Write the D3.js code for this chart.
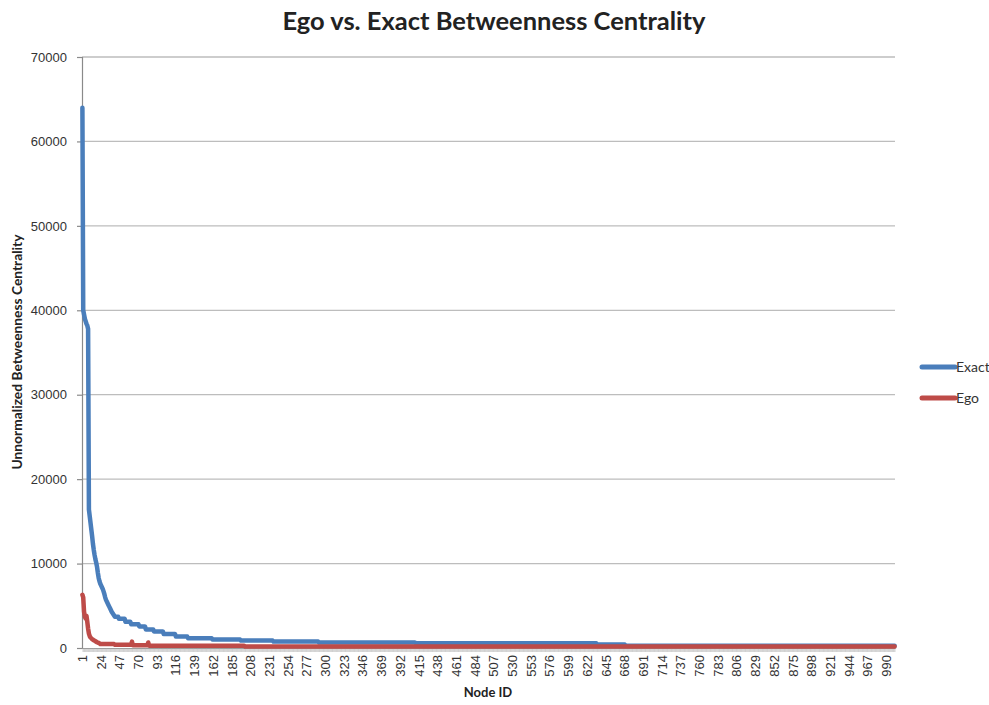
<!DOCTYPE html>
<html>
<head>
<meta charset="utf-8">
<script src="https://cdn.jsdelivr.net/npm/d3@7/dist/d3.min.js"></script>
<style>
  html, body { margin: 0; padding: 0; background: #fff; }
  svg { display: block; }
</style>
</head>
<body>
<svg id="chart" width="989" height="705"></svg>
<script>
// Betweenness centrality per node, nodes sorted by exact value (descending).
// Leading nodes are listed one by one; the long tail is stored as
// [value, nodeCount] plateaus.
const exactHead = [
  64000, 40000, 39500, 39000, 38700, 38400, 38200, 37800, 16400, 15600,
  14800, 14000, 13200, 12300, 11600, 11000, 10500, 10100, 9600, 8900,
  8300, 7900, 7600, 7400, 7200, 7000, 6700, 6400, 6000, 5700,
  5500, 5300, 5100, 4900, 4700, 4500, 4300, 4150, 4000, 3850
];
const exactTail = [
  [3700, 5], [3450, 8], [3100, 7], [2800, 10], [2550, 8], [2200, 10],
  [1950, 12], [1650, 15], [1350, 15], [1150, 30], [1000, 35], [880, 40],
  [760, 56], [640, 119], [560, 223], [420, 35], [260, 332]
];
const egoHead = [
  6300, 6000, 4300, 3700, 3500, 3800, 3100, 2300, 1700, 1400,
  1250, 1150, 1050, 980, 920, 870, 800, 740, 680, 640,
  600, 560
];
const egoTail = [
  [470, 18], [380, 21], [750, 1], [330, 19], [650, 1], [260, 118], [180, 800]
];

const seriesNames = ["Exact", "Ego"];
const seriesColors = ["#4a7ebb", "#be4b48"];
const yTicks = [0, 10000, 20000, 30000, 40000, 50000, 60000, 70000];
const xLabelStep = 23;

const titleText = "Ego vs. Exact Betweenness Centrality";
const yTitleText = "Unnormalized Betweenness Centrality";
const xTitleText = "Node ID";

function expand(head, tail) {
  const out = head.slice();
  tail.forEach(([v, n]) => { for (let k = 0; k < n; k++) out.push(v); });
  return out;
}
const exact = expand(exactHead, exactTail);
const ego = expand(egoHead, egoTail);
const nodeIds = exact.map((_, i) => i + 1);
const xLabels = nodeIds.filter(id => (id - 1) % xLabelStep === 0);

const svg = d3.select("#chart");
const plot = { left: 82, right: 895, top: 57, bottom: 648 };

const x = d3.scalePoint().domain(nodeIds).range([plot.left, plot.right]).padding(0.5);
const y = d3.scaleLinear().domain([0, 70000]).range([plot.bottom, plot.top]);

// horizontal gridlines
svg.append("g")
  .selectAll("line")
  .data(yTicks.filter(t => t > 0))
  .join("line")
  .attr("x1", plot.left).attr("x2", plot.right)
  .attr("y1", d => y(d)).attr("y2", d => y(d))
  .attr("stroke", "#bdbdbd").attr("stroke-width", 1.3);

// y axis
const yAxis = svg.append("g")
  .attr("transform", `translate(${plot.left},0)`)
  .call(d3.axisLeft(y).tickValues(yTicks).tickSize(5).tickPadding(10).tickFormat(d3.format("d")));
yAxis.select(".domain").attr("stroke", "#8a8a8a").attr("stroke-width", 1.2);
yAxis.selectAll(".tick line").attr("stroke", "#8a8a8a").attr("stroke-width", 1.2);
yAxis.selectAll(".tick text")
  .attr("font-family", "'Liberation Sans', Arial, sans-serif")
  .attr("font-size", 13).attr("fill", "#333");

// x axis: a tick at every node, a label every 23 nodes
const xAxis = svg.append("g")
  .attr("transform", `translate(0,${plot.bottom})`)
  .call(d3.axisBottom(x).tickValues(nodeIds).tickSize(4).tickSizeOuter(0).tickFormat(""));
xAxis.select(".domain").attr("stroke", "#8a8a8a").attr("stroke-width", 1.2);
xAxis.selectAll(".tick line").attr("stroke", "#b0b0b0").attr("stroke-width", 0.5);

svg.append("g")
  .selectAll("text")
  .data(xLabels)
  .join("text")
  .attr("transform", d => `translate(${x(d)},${plot.bottom + 7}) rotate(-90)`)
  .attr("text-anchor", "end")
  .attr("dy", "0.35em")
  .attr("font-family", "'Liberation Sans', Arial, sans-serif")
  .attr("font-size", 13)
  .attr("fill", "#333")
  .text(d => d);

// series lines
const line = d3.line().x((d, i) => x(i + 1)).y(d => y(d));
[exact, ego].forEach((values, k) => {
  svg.append("path")
    .datum(values)
    .attr("d", line)
    .attr("fill", "none")
    .attr("stroke", seriesColors[k])
    .attr("stroke-width", 4.5)
    .attr("stroke-linejoin", "round")
    .attr("stroke-linecap", "round");
});

// legend
const legend = svg.append("g");
seriesNames.forEach((name, k) => {
  const ly = 367 + k * 31;
  legend.append("line")
    .attr("x1", 922).attr("x2", 955).attr("y1", ly).attr("y2", ly)
    .attr("stroke", seriesColors[k]).attr("stroke-width", 5).attr("stroke-linecap", "round");
  legend.append("text")
    .attr("x", 956).attr("y", ly + 5)
    .attr("font-family", "Lato, 'Open Sans', sans-serif")
    .attr("font-size", 14).attr("fill", "#333")
    .text(name);
});

// titles
svg.append("text")
  .attr("x", 494).attr("y", 30)
  .attr("text-anchor", "middle")
  .attr("font-family", "Lato, 'Open Sans', sans-serif")
  .attr("font-weight", "bold").attr("font-size", 24).attr("fill", "#222")
  .attr("textLength", 423).attr("lengthAdjust", "spacingAndGlyphs")
  .text(titleText);

svg.append("text")
  .attr("transform", "translate(22,352) rotate(-90)")
  .attr("text-anchor", "middle")
  .attr("font-family", "Lato, 'Open Sans', sans-serif")
  .attr("font-weight", "bold").attr("font-size", 13).attr("fill", "#222")
  .attr("textLength", 235).attr("lengthAdjust", "spacingAndGlyphs")
  .text(yTitleText);

svg.append("text")
  .attr("x", 488).attr("y", 697)
  .attr("text-anchor", "middle")
  .attr("font-family", "Lato, 'Open Sans', sans-serif")
  .attr("font-weight", "bold").attr("font-size", 13).attr("fill", "#222")
  .text(xTitleText);
</script>
</body>
</html>
